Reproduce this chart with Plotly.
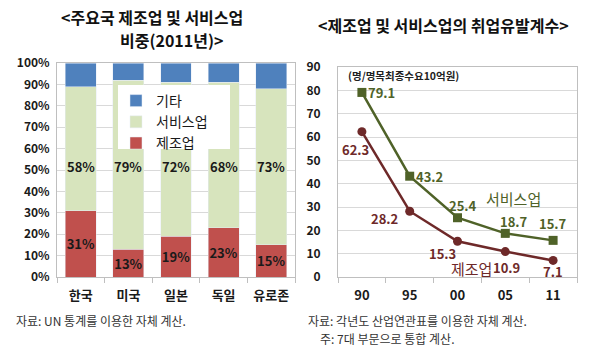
import plotly.graph_objects as go

W, H = 594, 357

# ---- left chart data ----
countries = ["한국", "미국", "일본", "독일", "유로존"]
manu_share = [31, 13, 19, 23, 15]
serv_share = [58, 79, 72, 68, 73]
other_share = [11, 8, 9, 9, 12]

# ---- right chart data ----
years = ["90", "95", "00", "05", "11"]
serv_coef = [79.1, 43.2, 25.4, 18.7, 15.7]
manu_coef = [62.3, 28.2, 15.3, 10.9, 7.1]

# label offsets (pixels) for the line value labels
serv_lab_shift = [(20, 0), (20, 0), (5, 12), (9, 12), (0, 17)]
manu_lab_shift = [(-6, -18), (-25, -7), (-15, -12), (1, -16), (0, -11)]

FONT = "Noto Sans CJK KR"
BLUE = "#4F81BD"
LGREEN = "#D7E4BD"
RED = "#C0504D"
DGREEN = "#4F6228"
MAROON = "#6E2929"
GRID = "#D9D9D9"
AXIS = "#BFBFBF"
TXT = "#1a1a1a"

def px(x):
    return x / W

def py(y):
    return 1 - y / H

fig = go.Figure()

fig.add_trace(go.Bar(x=countries, y=manu_share, name="제조업", marker_color=RED,
                     text=[f"{v}%" for v in manu_share], textposition="inside",
                     insidetextanchor="middle", textangle=0, constraintext="none",
                     textfont=dict(family=FONT, size=13, color=TXT, weight="bold"),
                     xaxis="x", yaxis="y"))
fig.add_trace(go.Bar(x=countries, y=serv_share, name="서비스업", marker_color=LGREEN,
                     xaxis="x", yaxis="y"))
fig.add_trace(go.Bar(x=countries, y=other_share, name="기타", marker_color=BLUE,
                     xaxis="x", yaxis="y"))

# right chart lines
fig.add_trace(go.Scatter(x=years, y=serv_coef, mode="lines+markers", name="서비스업 계수",
                         line=dict(color=DGREEN, width=2.5),
                         marker=dict(symbol="square", size=9, color=DGREEN),
                         showlegend=False, xaxis="x2", yaxis="y2"))
fig.add_trace(go.Scatter(x=years, y=manu_coef, mode="lines+markers", name="제조업 계수",
                         line=dict(color=MAROON, width=2.5),
                         marker=dict(symbol="circle", size=9, color=MAROON),
                         showlegend=False, xaxis="x2", yaxis="y2"))

annotations = []
# services share labels (placed at mid-height of chart)
for c, v in zip(countries, serv_share):
    annotations.append(dict(x=c, y=51.5, xref="x", yref="y", text=f"{v}%", showarrow=False,
                            font=dict(family=FONT, size=13, color=TXT, weight="bold")))

# line value labels (x given as category index)
for vals, shifts, col in [(serv_coef, serv_lab_shift, DGREEN),
                          (manu_coef, manu_lab_shift, MAROON)]:
    for i, (v, (dx, dy)) in enumerate(zip(vals, shifts)):
        annotations.append(dict(x=i, y=v, xref="x2", yref="y2", text=f"{v}", showarrow=False,
                                xshift=dx, yshift=dy,
                                font=dict(family=FONT, size=13, color=col, weight="bold")))

def pa(x, y, text, size, color="#111", bold=False, xanchor="center"):
    annotations.append(dict(x=px(x), y=py(y), xref="paper", yref="paper", text=text,
                            showarrow=False, xanchor=xanchor, yanchor="middle",
                            font=dict(family=FONT, size=size, color=color,
                                      weight="bold" if bold else "normal")))

pa(152, 17, "&lt;주요국 제조업 및 서비스업", 16, bold=True)
pa(171, 40, "비중(2011년)&gt;", 16, bold=True)
pa(443, 25, "&lt;제조업 및 서비스업의 취업유발계수&gt;", 16, bold=True)
pa(346, 75, "(명/명목최종수요10억원)", 10.5, color="#222", bold=True, xanchor="left")
pa(513, 198, "서비스업", 15, color=DGREEN)
pa(471, 268, "제조업", 15, color=MAROON)
pa(14, 320, "자료: UN 통계를 이용한 자체 계산.", 12, color="#333", xanchor="left")
pa(306, 320, "자료: 각년도 산업연관표를 이용한 자체 계산.", 12, color="#333", xanchor="left")
pa(318, 338, "주: 7대 부문으로 통합 계산.", 12, color="#333", xanchor="left")

shapes = [dict(type="rect", xref="paper", yref="paper", x0=px(118), x1=px(230),
               y0=py(149), y1=py(85), fillcolor="white", line=dict(width=0), layer="above")]

axis_common = dict(showline=True, linecolor=AXIS, linewidth=1, mirror=True, automargin=False,
                   tickfont=dict(family=FONT, size=13, color=TXT, weight="bold"))
ytick = dict(family=FONT, size=12, color=TXT, weight="bold")

fig.update_layout(
    width=W, height=H,
    margin=dict(l=0, r=0, t=0, b=0, autoexpand=False),
    paper_bgcolor="white", plot_bgcolor="white",
    barmode="stack", bargap=0.35,
    font=dict(family=FONT),
    xaxis=dict(domain=[px(57), px(295)], anchor="y", showgrid=False, type="category",
               ticks="outside", tickson="boundaries", ticklen=5, tickcolor=AXIS,
               ticklabelstandoff=6, **axis_common),
    yaxis=dict(domain=[py(277), py(63)], anchor="x", range=[0, 100], dtick=10,
               ticksuffix="%", showgrid=True, gridcolor=GRID, zeroline=False,
               ticklabelstandoff=4, **{**axis_common, "tickfont": ytick}),
    xaxis2=dict(domain=[px(338), px(577)], anchor="y2", showgrid=False, type="category",
                categoryorder="array", categoryarray=years,
                range=[-0.5, len(years) - 0.5],
                ticks="outside", tickson="boundaries", ticklen=5, tickcolor=AXIS,
                ticklabelstandoff=6, **axis_common),
    yaxis2=dict(domain=[py(277), py(67)], anchor="x2", range=[0, 90], dtick=10,
                showgrid=True, gridcolor=GRID, zeroline=False, ticklabelstandoff=14,
                **{**axis_common, "tickfont": ytick}),
    legend=dict(x=px(116), y=py(85), xanchor="left", yanchor="top",
                bgcolor="rgba(0,0,0,0)", traceorder="reversed", itemwidth=30,
                font=dict(family=FONT, size=14, color=TXT)),
    annotations=annotations,
    shapes=shapes,
)

fig.write_html("out.html", config={"displayModeBar": False},
               post_script="document.body.style.margin='0';document.body.style.overflow='hidden';")
